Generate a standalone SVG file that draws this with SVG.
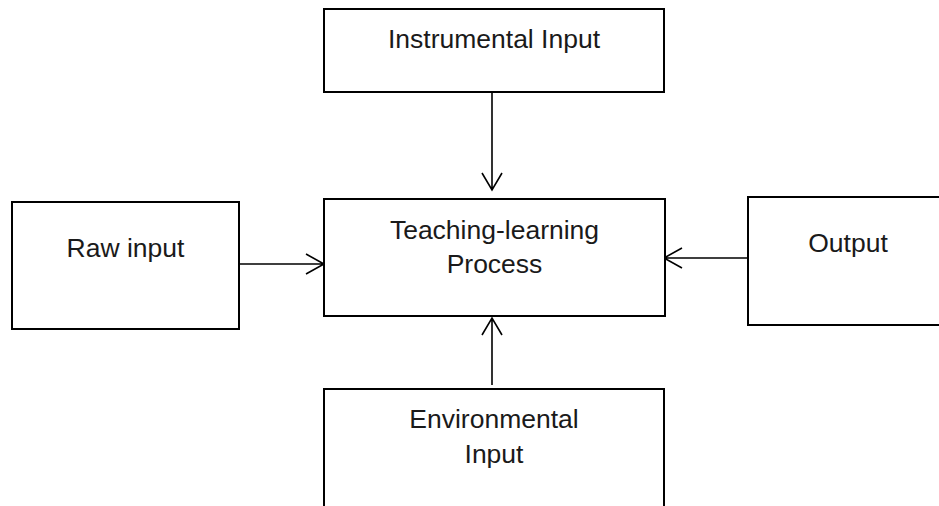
<svg xmlns="http://www.w3.org/2000/svg" width="939" height="506" viewBox="0 0 939 506">
<style>
.box{fill:#fff;stroke:#000;stroke-width:2}
.lbl{font-family:"Liberation Sans",Arial,sans-serif;font-size:26.5px;fill:#1a1a1a;text-anchor:middle}
.con{stroke:#000;stroke-width:1.6;fill:none}
</style>
<rect width="939" height="506" fill="#fff"/>
<g id="connectors">
<path class="con" d="M492 92V190M482 173L492 190L502 173"/>
<path class="con" d="M239 264H324M306 254L324 264L306 274"/>
<path class="con" d="M748 258H664M682 248L664 258L682 268"/>
<path class="con" d="M492 385V318M482 335L492 318L502 335"/>
</g>
<g id="instrumental">
<rect class="box" x="324" y="9" width="340" height="83"/>
<text class="lbl" x="494" y="48">Instrumental Input</text>
</g>
<g id="process">
<rect class="box" x="324" y="199" width="341" height="117"/>
<text class="lbl" x="494.5" y="239">Teaching-learning</text>
<text class="lbl" x="494.5" y="273">Process</text>
</g>
<g id="raw">
<rect class="box" x="12" y="202" width="227" height="127"/>
<text class="lbl" x="125.5" y="257">Raw input</text>
</g>
<g id="output">
<rect class="box" x="748" y="197" width="202" height="128"/>
<text class="lbl" x="848" y="252">Output</text>
</g>
<g id="environmental">
<rect class="box" x="324" y="389" width="340" height="130"/>
<text class="lbl" x="494" y="428">Environmental</text>
<text class="lbl" x="494" y="463">Input</text>
</g>
</svg>
